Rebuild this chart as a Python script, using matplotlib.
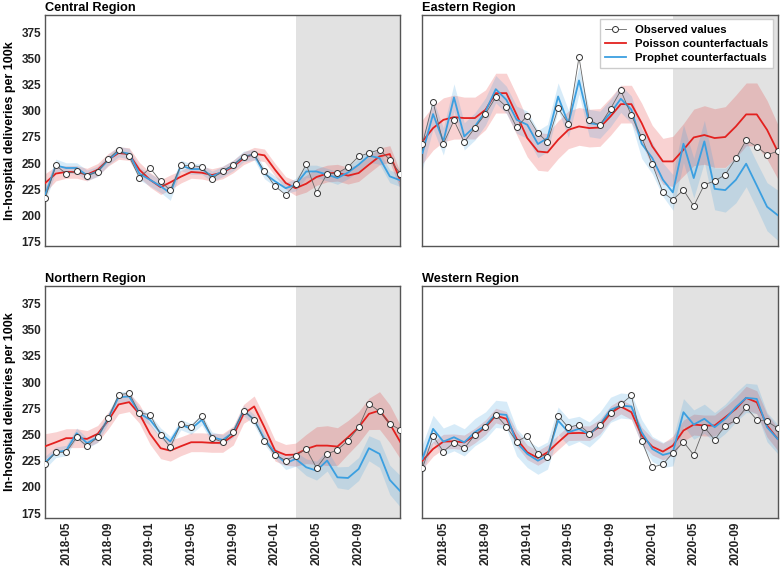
import numpy as np
import pandas as pd
import matplotlib
matplotlib.use("Agg")
import matplotlib.pyplot as plt
import matplotlib.dates as mdates

plt.rcParams['font.family'] = ['Liberation Sans', 'DejaVu Sans']
plt.rcParams['font.weight'] = 'bold'

months = pd.date_range("2018-03-01", "2021-01-01", freq="MS")
covid_start = pd.Timestamp("2020-03-01")
tick_dates = pd.date_range("2018-05-01", "2020-09-01", freq="4MS")

regions = ["Central Region", "Eastern Region", "Northern Region", "Western Region"]

# observed monthly values
central_obs = [216.3, 247.8, 239.9, 242.4, 238.0, 241.8, 253.9, 262.8, 256.4, 236.0,
               245.3, 232.6, 224.0, 247.8, 247.8, 246.2, 235.1, 242.4, 248.5, 256.1,
               258.3, 242.1, 227.8, 219.8, 230.0, 248.8, 221.7, 239.9, 240.5, 246.2,
               256.4, 259.6, 262.8, 253.2, 239.9]
eastern_obs = [268.5, 308.2, 268.5, 290.7, 270.0, 283.7, 297.0, 313.0, 303.8, 284.0,
               295.2, 278.7, 270.0, 302.5, 287.6, 351.2, 291.0, 286.0, 301.9, 319.4,
               295.5, 274.5, 249.0, 222.0, 215.0, 224.3, 209.0, 229.4, 232.8, 238.9,
               254.5, 272.0, 265.7, 258.0, 261.2]
northern_obs = [221.9, 233.0, 233.0, 247.4, 238.8, 247.4, 265.6, 287.9, 289.5, 270.4,
                269.1, 249.6, 237.8, 260.2, 257.6, 267.8, 246.8, 242.6, 252.8, 272.9,
                264.0, 244.2, 230.8, 225.1, 229.9, 236.2, 218.1, 231.5, 235.3, 244.2,
                256.7, 279.3, 272.0, 260.2, 254.4]
western_obs = [217.7, 248.6, 233.7, 242.3, 236.8, 249.6, 257.0, 269.1, 257.6, 243.3,
               248.6, 231.5, 228.6, 268.1, 256.7, 259.5, 250.9, 259.5, 271.0, 278.7,
               287.3, 244.2, 218.7, 221.6, 232.4, 242.9, 230.5, 257.0, 244.9, 258.6,
               263.4, 275.8, 264.0, 262.7, 256.0]

# Poisson counterfactual (mean + band half width)
central_pois = [231.0, 240.0, 241.5, 241.5, 239.0, 243.6, 253.2, 259.6, 258.6, 243.6,
                234.0, 227.0, 231.6, 237.0, 241.5, 240.8, 238.6, 241.0, 246.8, 254.5,
                259.0, 257.4, 243.6, 231.0, 226.0, 230.3, 236.7, 240.0, 240.8, 238.0,
                240.5, 248.5, 256.4, 258.6, 233.0]
eastern_pois = [270.6, 283.4, 291.3, 293.9, 293.0, 293.0, 300.9, 316.8, 316.8, 296.1,
                273.9, 261.1, 260.2, 272.3, 281.8, 285.0, 283.4, 284.0, 294.6, 306.3,
                306.3, 288.2, 266.0, 251.6, 251.6, 262.8, 274.5, 276.8, 273.9, 274.9,
                285.0, 296.5, 296.5, 281.8, 261.2]
northern_pois = [238.8, 242.6, 246.5, 246.5, 245.8, 250.6, 263.4, 278.7, 280.9, 269.7,
                 250.6, 236.9, 234.6, 238.8, 242.6, 242.6, 242.0, 242.0, 249.0, 269.7,
                 276.8, 256.9, 234.6, 230.5, 230.8, 236.2, 239.4, 239.4, 238.5, 247.4,
                 256.9, 269.7, 272.9, 260.2, 242.6]
western_pois = [225.0, 236.2, 243.2, 243.5, 242.5, 249.0, 257.0, 268.1, 265.0, 245.8,
                233.0, 227.6, 233.0, 242.5, 251.2, 251.5, 251.2, 257.5, 270.3, 276.7,
                271.3, 249.0, 238.4, 233.7, 239.4, 253.8, 259.5, 258.6, 258.6, 266.5,
                274.5, 285.0, 280.8, 258.6, 245.8]

central_pois_hw = [9, 7, 6, 6, 6, 6, 6, 6, 6, 7, 7, 7, 7, 6, 6, 6, 6, 6, 6, 6,
                   6, 6, 6, 6, 7, 8, 8, 8, 8, 8, 8, 8, 8, 8, 8]
eastern_pois_hw = [21, 21, 21, 21, 20, 20, 19, 19, 19, 19, 18, 18, 18, 18, 18, 18, 18, 18,
                   18, 18, 18, 19, 20, 22, 24, 25, 27, 28, 28, 29, 30, 30, 30, 28, 26]
northern_pois_hw = [12, 10, 9, 9, 8, 8, 8, 9, 9, 9, 10, 10, 10, 9, 9, 9, 9, 9, 9, 9,
                    10, 10, 10, 10, 11, 14, 18, 19, 18, 16, 15, 15, 18, 18, 16]
western_pois_hw = [8, 7, 7, 7, 7, 7, 7, 7, 7, 7, 7, 7, 7, 7, 7, 7, 7, 7, 7, 7,
                   7, 8, 8, 8, 9, 10, 10, 10, 10, 10, 11, 11, 11, 11, 11]

# Prophet counterfactual (mean + band half width)
central_prop = [219.8, 247.8, 245.3, 245.3, 238.3, 242.0, 253.0, 261.0, 258.9, 239.9,
                234.0, 227.8, 221.4, 247.8, 244.3, 244.3, 237.3, 242.0, 247.8, 256.4,
                258.0, 240.0, 232.6, 226.0, 229.4, 242.0, 242.0, 239.0, 235.7, 241.0,
                248.5, 257.0, 254.8, 237.3, 233.5]
eastern_prop = [259.6, 296.8, 270.7, 312.7, 275.5, 285.0, 299.3, 320.6, 310.4, 291.4,
                286.6, 268.2, 273.9, 313.6, 287.6, 328.9, 288.2, 286.6, 297.7, 311.4,
                301.0, 268.5, 254.8, 234.1, 222.0, 268.5, 235.7, 270.7, 225.4, 224.2,
                234.0, 249.4, 228.6, 208.3, 200.3]
northern_prop = [223.5, 233.0, 234.7, 251.2, 241.7, 247.4, 265.6, 285.7, 286.3, 270.4,
                 264.0, 251.2, 243.3, 259.5, 255.4, 264.0, 247.4, 244.8, 252.2, 272.9,
                 264.0, 245.8, 232.1, 222.5, 226.7, 218.7, 215.5, 225.1, 209.1, 208.5,
                 217.1, 236.9, 231.5, 206.6, 195.7]
western_prop = [226.6, 255.4, 243.2, 247.4, 242.5, 252.2, 258.6, 269.7, 268.7, 242.5,
                231.5, 225.0, 229.9, 263.3, 252.2, 255.4, 250.0, 259.5, 273.6, 277.7,
                276.7, 252.2, 236.2, 230.5, 233.0, 271.3, 259.5, 265.0, 257.0, 265.0,
                276.0, 285.0, 284.0, 257.0, 245.8]

central_prop_hw = [7, 6, 5, 5, 5, 5, 5, 5, 5, 6, 6, 6, 7, 5, 5, 5, 5, 5, 5, 5,
                   5, 5, 5, 5, 6, 6, 6, 6, 6, 6, 6, 6, 6, 6, 6]
eastern_prop_hw = [15, 14, 13, 13, 13, 13, 13, 13, 13, 13, 13, 13, 13, 13, 13, 13, 13, 13,
                   13, 13, 13, 14, 15, 16, 17, 18, 19, 20, 20, 21, 22, 22, 22, 23, 24]
northern_prop_hw = [6, 5, 5, 5, 5, 5, 5, 5, 5, 5, 5, 5, 5, 5, 5, 5, 5, 5, 5, 5,
                    5, 5, 5, 6, 7, 8, 9, 10, 10, 11, 11, 12, 13, 14, 15]
western_prop_hw = [14, 13, 13, 13, 13, 13, 13, 13, 13, 13, 13, 13, 13, 13, 13, 12, 12, 12,
                   12, 12, 12, 12, 12, 12, 13, 13, 14, 14, 14, 14, 14, 14, 14, 14, 14]

obs_all = [central_obs, eastern_obs, northern_obs, western_obs]
pois_all = [central_pois, eastern_pois, northern_pois, western_pois]
pois_hw_all = [central_pois_hw, eastern_pois_hw, northern_pois_hw, western_pois_hw]
prop_all = [central_prop, eastern_prop, northern_prop, western_prop]
prop_hw_all = [central_prop_hw, eastern_prop_hw, northern_prop_hw, western_prop_hw]

red = "#e3211f"
blue = "#3b9fe0"

fig, axes = plt.subplots(2, 2, figsize=(7.8, 5.74), dpi=100, sharex=True, sharey=True)
fig.subplots_adjust(left=0.058, right=0.997, top=0.974, bottom=0.098, wspace=0.062, hspace=0.173)

for k, ax in enumerate(axes.flat):
    obs = np.array(obs_all[k])
    pois = np.array(pois_all[k])
    pois_hw = np.array(pois_hw_all[k])
    prop = np.array(prop_all[k])
    prop_hw = np.array(prop_hw_all[k])

    ax.axvspan(covid_start, months[-1], color="#e2e2e2", zorder=0, lw=0)
    ax.fill_between(months, pois - pois_hw, pois + pois_hw, color=red, alpha=0.2, lw=0, zorder=1)
    ax.fill_between(months, prop - prop_hw, prop + prop_hw, color=blue, alpha=0.2, lw=0, zorder=1)
    ax.plot(months, obs, color="#666666", lw=0.6, marker="o", ms=4.3,
            mfc="white", mec="#333333", mew=0.7, zorder=4, label="Observed values")
    ax.plot(months, pois, color=red, lw=1.3, zorder=3, label="Poisson counterfactuals")
    ax.plot(months, prop, color=blue, lw=1.3, zorder=3, label="Prophet counterfactuals")

    ax.set_title(regions[k], loc="left", fontsize=9.2, fontweight="bold", pad=3)
    ax.set_xlim(months[0], months[-1])
    ax.set_ylim(170.5, 391.5)
    ax.set_yticks([175, 200, 225, 250, 275, 300, 325, 350, 375])
    ax.set_xticks(tick_dates)
    ax.xaxis.set_major_formatter(mdates.DateFormatter("%Y-%m"))
    ax.tick_params(axis="both", length=0, labelsize=8.5, colors="#222222", pad=3)
    ax.tick_params(axis="x", rotation=90)
    for lab in ax.get_xticklabels() + ax.get_yticklabels():
        lab.set_fontweight("bold")
    for sp in ax.spines.values():
        sp.set_color("#555555")
        sp.set_linewidth(1.0)
    if k % 2 == 0:
        ax.set_ylabel("In-hospital deliveries per 100k", fontsize=9, fontweight="bold")

axes[0, 1].legend(loc="upper right", frameon=True, edgecolor="#cccccc",
                  framealpha=1.0, fancybox=False, borderpad=0.45, handlelength=1.8,
                  labelspacing=0.35, borderaxespad=0.4,
                  prop={"weight": "bold", "size": 8.2})

fig.savefig("out.png", dpi=100)
